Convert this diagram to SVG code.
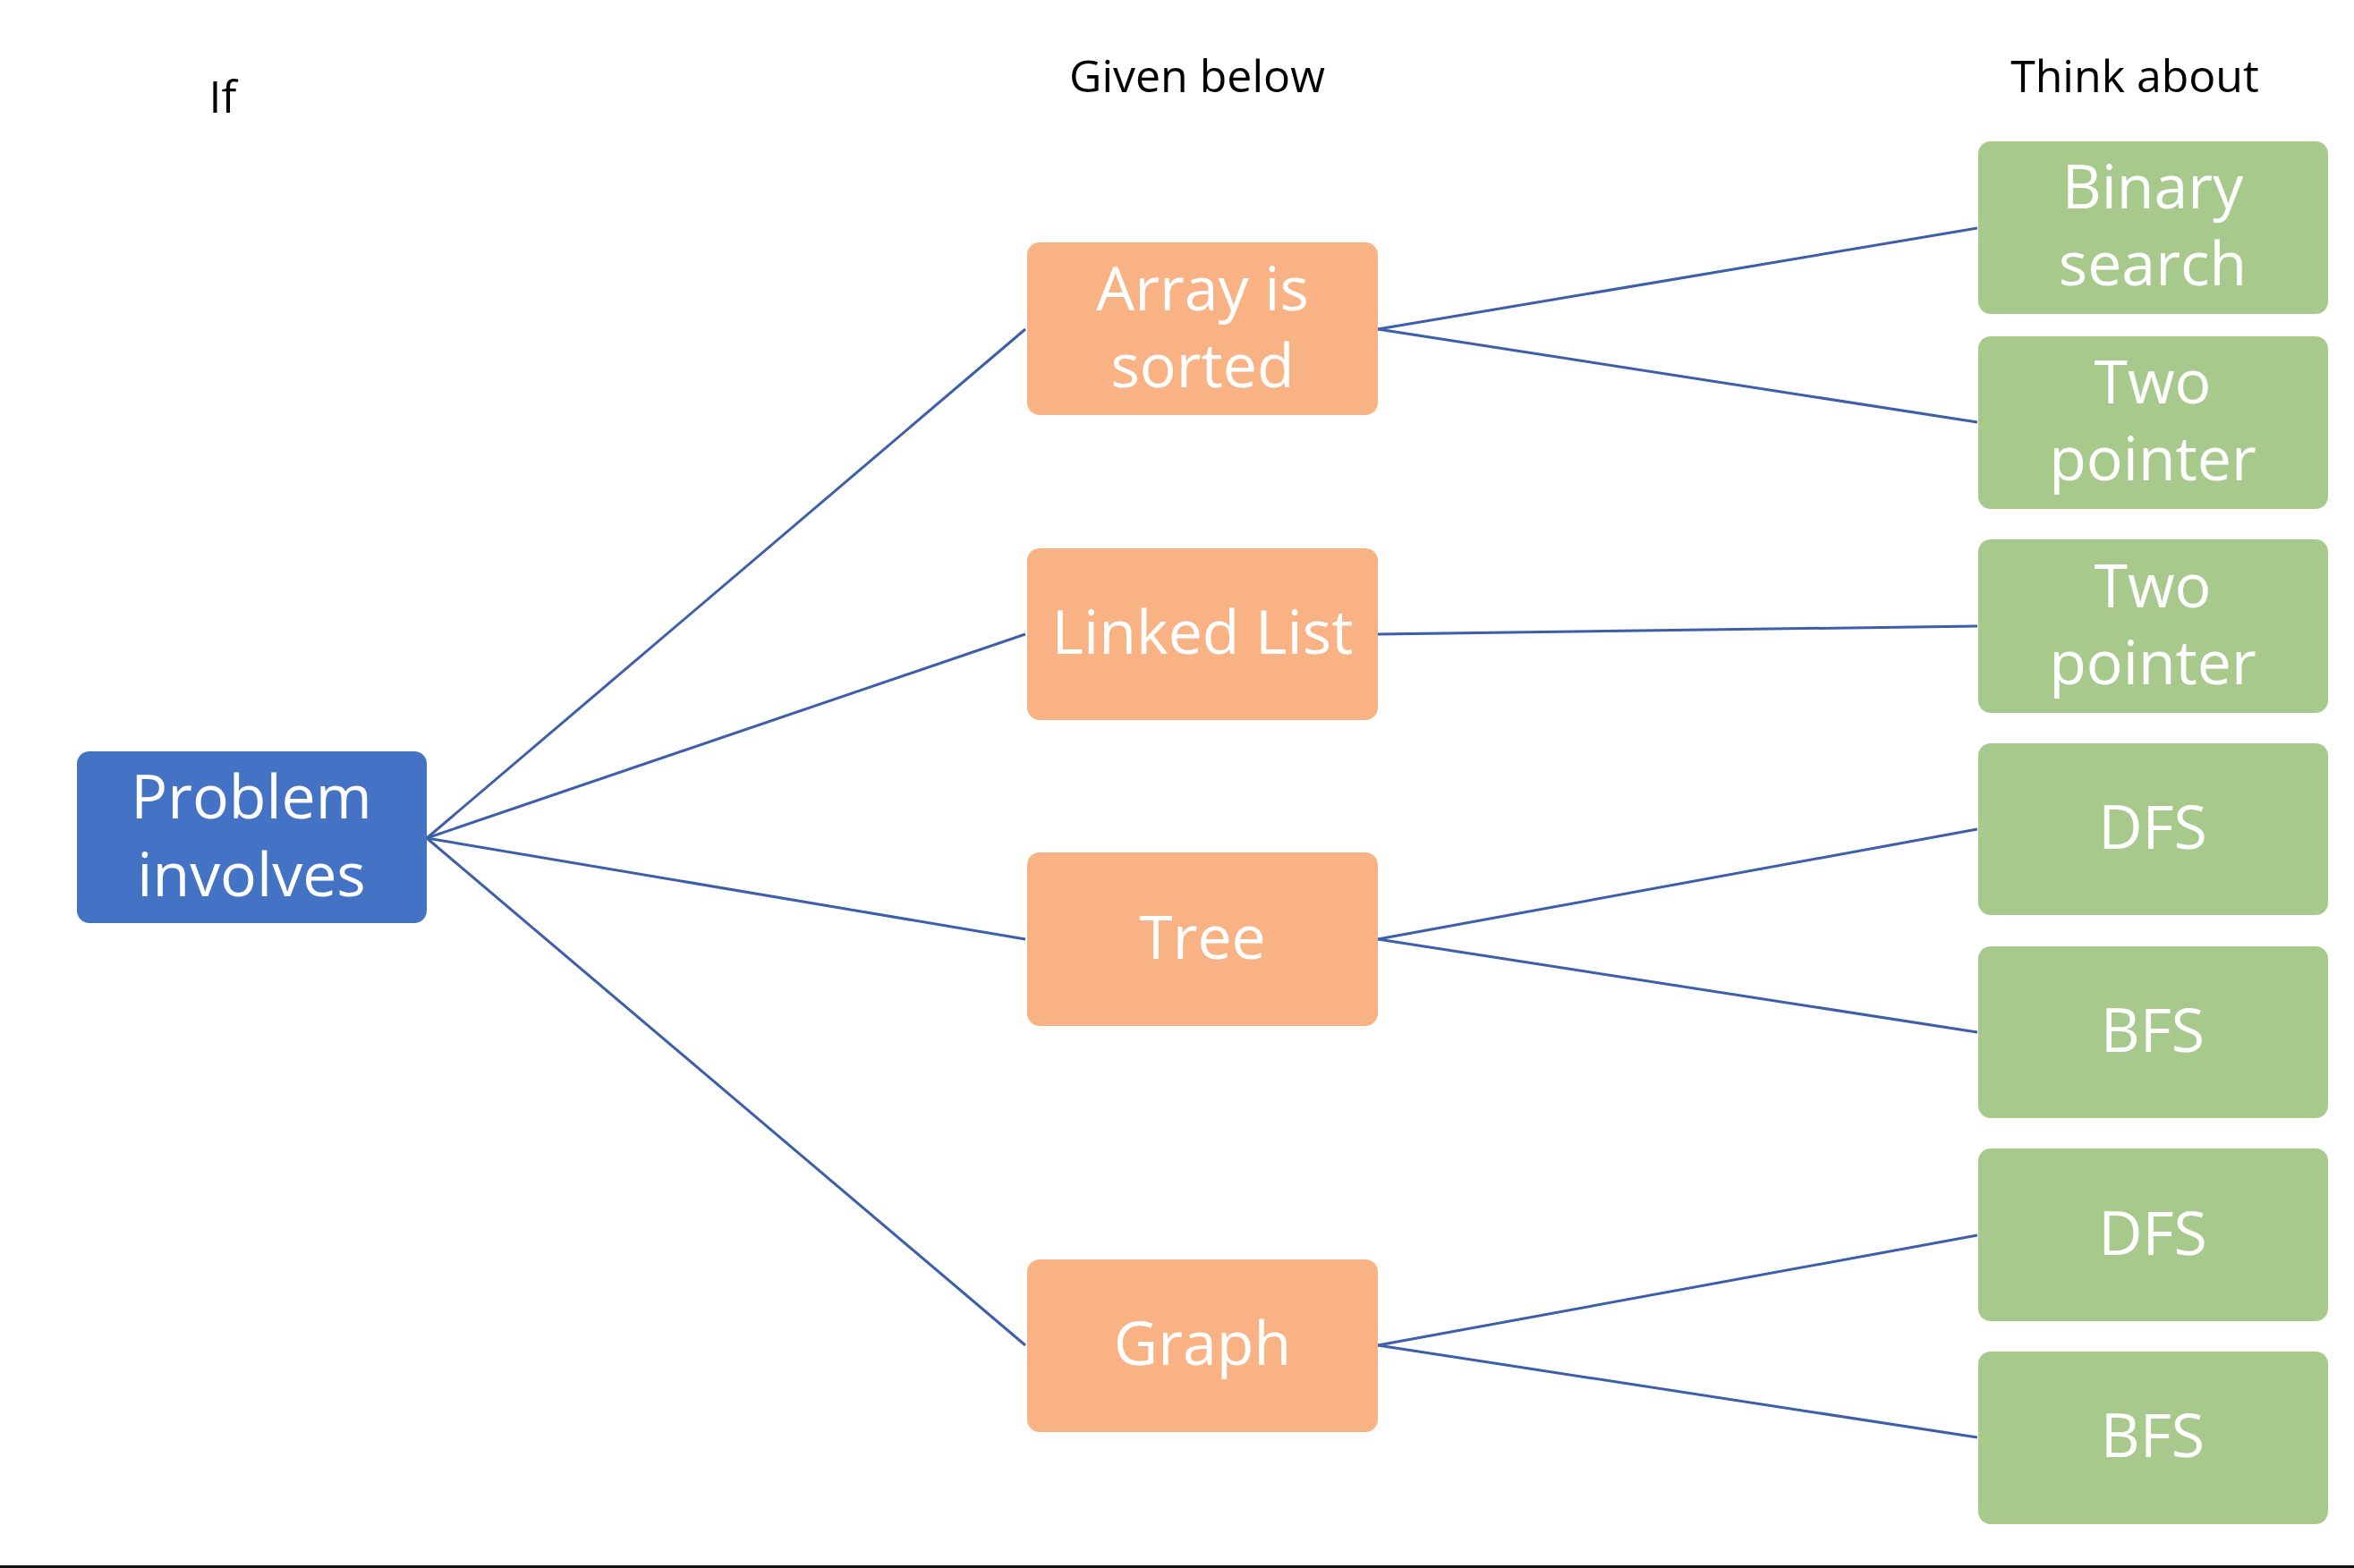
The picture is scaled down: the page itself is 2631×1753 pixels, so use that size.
<svg xmlns="http://www.w3.org/2000/svg" width="2631" height="1753" viewBox="0 0 2631 1753">
<style>
.hdr{font-family:"Open Sans","Liberation Sans",sans-serif;font-size:50px;fill:#000;text-anchor:middle}
.lbl{font-family:"Open Sans","Liberation Sans",sans-serif;font-size:68px;fill:#fff;text-anchor:middle}
.blue{fill:#4472C4}
.orange{fill:#F9B283}
.green{fill:#A8C98C}
.conn line{stroke:#3D5FAA;stroke-width:3;fill:none}
</style>
<rect x="0" y="0" width="2631" height="1753" fill="#fff"/>
<g id="headers">
<text class="hdr" x="249" y="126">If</text>
<text class="hdr" x="1338" y="103">Given below</text>
<text class="hdr" x="2386" y="103">Think about</text>
</g>
<g id="connectors" class="conn">
<line x1="477" y1="937" x2="1146" y2="368"/>
<line x1="477" y1="937" x2="1146" y2="709"/>
<line x1="477" y1="937" x2="1146" y2="1050"/>
<line x1="477" y1="937" x2="1146" y2="1504"/>
<line x1="1540" y1="368" x2="2210" y2="255"/>
<line x1="1540" y1="368" x2="2210" y2="472"/>
<line x1="1540" y1="709" x2="2210" y2="700"/>
<line x1="1540" y1="1050" x2="2210" y2="927"/>
<line x1="1540" y1="1050" x2="2210" y2="1154"/>
<line x1="1540" y1="1504" x2="2210" y2="1381"/>
<line x1="1540" y1="1504" x2="2210" y2="1607"/>
</g>
<g id="problem">
<rect class="blue" x="86" y="840" width="391" height="192" rx="14"/>
<text class="lbl" x="281" y="915">Problem</text>
<text class="lbl" x="281" y="1002">involves</text>
</g>
<g id="array">
<rect class="orange" x="1148" y="271" width="392" height="193" rx="14"/>
<text class="lbl" x="1344" y="347">Array is</text>
<text class="lbl" x="1344" y="433">sorted</text>
</g>
<g id="linkedlist">
<rect class="orange" x="1148" y="613" width="392" height="192" rx="14"/>
<text class="lbl" x="1344" y="731">Linked List</text>
</g>
<g id="tree">
<rect class="orange" x="1148" y="953" width="392" height="194" rx="14"/>
<text class="lbl" x="1344" y="1072">Tree</text>
</g>
<g id="graph">
<rect class="orange" x="1148" y="1408" width="392" height="193" rx="14"/>
<text class="lbl" x="1344" y="1526">Graph</text>
</g>
<g id="binarysearch">
<rect class="green" x="2211" y="158" width="391" height="193" rx="14"/>
<text class="lbl" x="2406" y="233">Binary</text>
<text class="lbl" x="2406" y="319">search</text>
</g>
<g id="twopointer1">
<rect class="green" x="2211" y="376" width="391" height="193" rx="14"/>
<text class="lbl" x="2406" y="451">Two</text>
<text class="lbl" x="2406" y="537">pointer</text>
</g>
<g id="twopointer2">
<rect class="green" x="2211" y="603" width="391" height="194" rx="14"/>
<text class="lbl" x="2406" y="679">Two</text>
<text class="lbl" x="2406" y="765">pointer</text>
</g>
<g id="dfs1">
<rect class="green" x="2211" y="831" width="391" height="192" rx="14"/>
<text class="lbl" x="2406" y="949">DFS</text>
</g>
<g id="bfs1">
<rect class="green" x="2211" y="1058" width="391" height="192" rx="14"/>
<text class="lbl" x="2406" y="1176">BFS</text>
</g>
<g id="dfs2">
<rect class="green" x="2211" y="1284" width="391" height="193" rx="14"/>
<text class="lbl" x="2406" y="1403">DFS</text>
</g>
<g id="bfs2">
<rect class="green" x="2211" y="1511" width="391" height="193" rx="14"/>
<text class="lbl" x="2406" y="1629">BFS</text>
</g>
<rect id="bottom-rule" x="0" y="1750" width="2631" height="3" fill="#111"/>
</svg>
